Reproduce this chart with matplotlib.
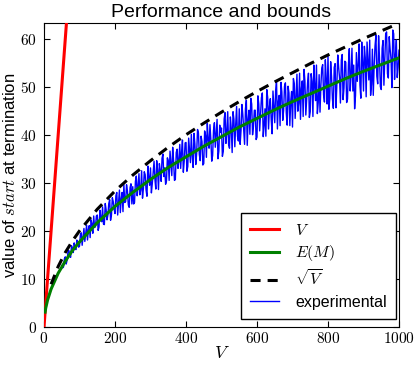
import matplotlib
matplotlib.use('Agg')
import matplotlib.pyplot as plt
import numpy as np
from matplotlib.ticker import FormatStrFormatter

plt.rcParams['font.family'] = ['Liberation Sans', 'DejaVu Sans']
plt.rcParams['mathtext.fontset'] = 'cm'

# bound V (straight line)
v_x = [0, 1000]
v_y = [0, 1000]

# expected value E(M)
em_x = [3, 5, 10, 20, 40, 60, 80, 100, 150, 200, 250, 300, 350, 400, 450, 500,
        550, 600, 650, 700, 750, 800, 850, 900, 950, 1000]
em_y = [3.1, 4.0, 5.6, 7.9, 11.2, 13.7, 15.9, 17.7, 21.7, 25.1, 28.0, 30.7, 33.2,
        35.4, 37.6, 39.6, 41.6, 43.4, 45.2, 46.9, 48.5, 50.1, 51.7, 53.2, 54.6, 56.0]

# sqrt bound (dashed)
sq_x = [20, 40, 60, 80, 100, 150, 200, 250, 300, 350, 400, 450, 500, 550, 600,
        650, 700, 750, 800, 850, 900, 950, 1000]
sq_y = [8.9, 12.6, 15.5, 17.9, 20.0, 24.5, 28.3, 31.6, 34.6, 37.4, 40.0, 42.4,
        44.7, 46.9, 49.0, 51.0, 52.9, 54.8, 56.6, 58.3, 60.0, 61.6, 63.2]

# experimental runs at V = 50, 55, ..., 1000
exp_main = [12.8, 12.5, 14.6, 13.9, 15.9, 14.5, 16.4, 17.5, 16.1, 17.5,
            16.8, 19.6, 18.8, 17.8, 21.2, 20.3, 18.6, 21.5, 23.1, 20.9,
            23.3, 20.8, 22.8, 25.0, 21.3, 24.4, 23.3, 26.5, 23.3, 26.1,
            23.6, 28.0, 26.0, 23.8, 28.0, 29.6, 26.1, 28.3, 24.9, 29.8,
            29.2, 25.9, 31.4, 29.4, 27.5, 32.5, 28.8, 31.7, 27.2, 31.2,
            33.1, 29.8, 34.5, 28.7, 32.6, 34.0, 30.3, 36.0, 33.1, 30.4,
            34.7, 36.6, 31.5, 34.7, 30.7, 37.0, 34.8, 33.0, 38.9, 34.6,
            38.4, 33.4, 36.7, 40.1, 33.2, 38.1, 36.1, 40.4, 34.6, 38.6,
            34.0, 39.9, 42.4, 37.2, 39.0, 35.7, 42.5, 40.3, 35.0, 42.0,
            41.4, 36.5, 44.6, 40.6, 38.0, 43.7, 36.3, 43.2, 42.1, 39.7,
            45.4, 40.9, 44.2, 38.0, 47.2, 43.2, 40.1, 46.4, 41.7, 45.1,
            39.5, 46.4, 44.3, 48.7, 41.9, 39.7, 47.8, 45.8, 43.2, 49.1,
            42.5, 51.2, 46.9, 41.9, 48.9, 45.1, 50.8, 42.0, 48.7, 47.0,
            41.6, 50.7, 48.0, 44.9, 52.8, 49.6, 43.8, 51.1, 47.6, 52.8,
            44.8, 51.1, 54.5, 47.1, 44.4, 52.5, 50.4, 54.6, 46.8, 51.5,
            56.7, 47.5, 52.1, 45.5, 54.8, 50.5, 54.0, 46.6, 56.7, 49.7,
            55.1, 47.4, 57.9, 52.7, 49.1, 45.4, 57.1, 54.5, 50.3, 59.3,
            49.1, 56.0, 59.3, 51.4, 48.2, 57.8, 54.4, 60.7, 50.6, 56.1,
            49.4, 59.6, 55.9, 61.4, 51.8, 57.8, 49.8, 61.0, 56.6, 51.9, 57.6]

# experimental runs at V = 52.5, 57.5, ..., 997.5
exp_mid = [12.3, 14.2, 13.1, 15.6, 14.8, 16.9, 15.5, 16.4, 18.1, 16.6,
           19.2, 17.0, 20.5, 19.5, 18.1, 21.1, 22.3, 19.5, 20.7, 23.1,
           20.1, 24.3, 21.9, 21.4, 25.7, 22.3, 25.7, 22.2, 26.9, 24.5,
           27.3, 23.3, 28.5, 26.7, 24.0, 25.9, 29.6, 25.4, 29.0, 25.6,
           25.6, 30.3, 27.3, 31.9, 28.5, 26.8, 32.3, 28.5, 33.5, 29.5,
           27.9, 32.2, 30.7, 34.6, 28.6, 32.6, 35.1, 31.3, 29.7, 35.2,
           30.5, 34.1, 37.4, 30.5, 36.3, 33.0, 38.0, 36.4, 32.2, 38.3,
           32.4, 39.3, 34.2, 35.6, 40.3, 33.8, 41.1, 35.9, 39.7, 33.7,
           40.8, 35.3, 39.0, 42.1, 34.5, 40.9, 37.4, 43.2, 36.6, 40.5,
           35.5, 43.3, 38.2, 44.8, 37.2, 41.3, 44.8, 37.5, 45.9, 38.7,
           38.0, 46.3, 40.9, 45.4, 37.8, 45.1, 47.6, 40.0, 45.1, 39.0,
           48.1, 40.8, 47.7, 39.6, 45.4, 49.4, 41.2, 47.5, 40.2, 45.9,
           49.2, 41.2, 48.2, 50.9, 43.0, 50.1, 44.5, 50.1, 41.9, 49.0,
           51.7, 43.4, 52.6, 46.6, 43.2, 51.2, 53.6, 44.1, 50.8, 43.6,
           52.7, 43.8, 50.2, 54.5, 46.7, 44.7, 53.9, 48.3, 55.6, 46.4,
           45.3, 55.2, 47.4, 54.0, 45.6, 56.6, 51.9, 55.5, 47.3, 55.3,
           46.7, 54.5, 49.1, 58.0, 54.5, 48.2, 51.1, 58.9, 47.6, 55.4,
           58.4, 47.9, 55.4, 59.7, 50.5, 48.2, 58.5, 52.2, 60.6, 50.0,
           58.0, 50.3, 61.0, 52.7, 60.4, 55.8, 61.8, 51.5, 59.7, 54.0]

exp_y = [v for pair in zip(exp_main[:-1], exp_mid) for v in pair] + [exp_main[-1]]
exp_x = np.arange(50, 1000.1, 2.5)

fig = plt.figure(figsize=(4.15, 3.65), dpi=100)
ax = fig.add_axes([44 / 415, 38 / 365, 355 / 415, 304 / 365])

ax.plot(v_x, v_y, color='r', lw=2.2, label='$V$', zorder=3)
ax.plot(em_x, em_y, color='g', lw=2.2, label='$E(M)$', zorder=4)
ax.plot(sq_x, sq_y, color='k', lw=2.2, dashes=(3.3, 2.3), label=r'$\sqrt{V}$', zorder=5)
ax.plot(exp_x, exp_y, color='b', lw=1.0, label='experimental', zorder=2)

ax.set_xlim(0, 1000)
ax.set_ylim(0, 63.25)
ax.set_xticks([0, 200, 400, 600, 800, 1000])
ax.set_yticks([0, 10, 20, 30, 40, 50, 60])
ax.xaxis.set_major_formatter(FormatStrFormatter('$%d$'))
ax.yaxis.set_major_formatter(FormatStrFormatter('$%d$'))
ax.tick_params(direction='in', top=True, right=True, length=4, labelsize=11)
ax.tick_params(axis='x', pad=3)
ax.tick_params(axis='y', pad=5)

ax.set_title('Performance and bounds', fontsize=14, pad=4)
ax.set_xlabel('$V$', fontsize=13, labelpad=-1)
ax.set_ylabel('value of $start$ at termination', fontsize=12, labelpad=2)

leg = ax.legend(loc='lower right', bbox_to_anchor=(0.992, 0.026), borderaxespad=0,
                fontsize=11.5, fancybox=False, framealpha=1, edgecolor='k',
                handlelength=1.8, handletextpad=1.0, labelspacing=0.35,
                borderpad=0.6)
leg.get_frame().set_linewidth(1.0)

plt.savefig('out.png', dpi=100)
